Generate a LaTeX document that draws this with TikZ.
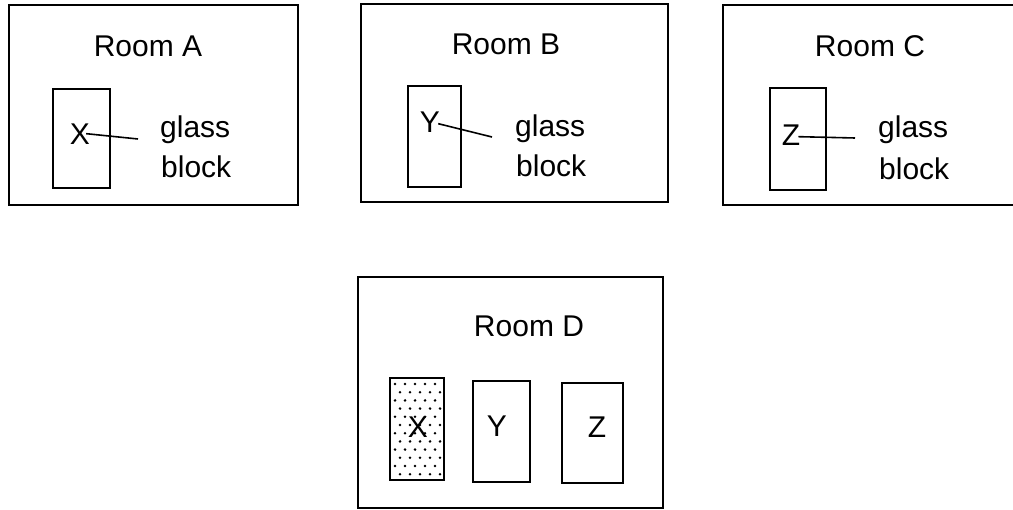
\documentclass[tikz,border=0pt]{standalone}
\usepackage{fontspec}
\setmainfont{Liberation Sans}
\begin{document}
\begin{tikzpicture}[x=1pt,y=-1pt,
  room/.style={draw=black, line width=2pt, rectangle, inner sep=0pt},
  gblock/.style={draw=black, line width=1.8pt, rectangle, inner sep=0pt},
  lbl/.style={anchor=base, inner sep=0pt, font=\fontsize{30}{36}\selectfont},
  lbll/.style={anchor=base west, inner sep=0pt, font=\fontsize{30}{36}\selectfont},
  lead/.style={draw=black, line width=1.6pt}]
\useasboundingbox (0,0) rectangle (1013,510);
\clip (0,0) rectangle (1013,510);
% rooms
\node[room, minimum width=289pt, minimum height=200pt] (roomA) at (153.5,105) {};
\node[room, minimum width=307pt, minimum height=198pt] (roomB) at (514.5,103) {};
\node[room, minimum width=340pt, minimum height=200pt] (roomC) at (893,105) {};
\node[room, minimum width=305pt, minimum height=231pt] (roomD) at (510.5,392.5) {};
% room titles
\node[lbl] (tA) at (148,57) {Room A};
\node[lbl] (tB) at (506,55) {Room B};
\node[lbl] (tC) at (870,57) {Room C};
\node[lbl] (tD) at (529,337) {Room D};
% blocks
\node[gblock, minimum width=57pt, minimum height=99pt] (bA) at (81.5,138.5) {};
\node[gblock, minimum width=53pt, minimum height=101pt] (bB) at (434.5,136.5) {};
\node[gblock, minimum width=56pt, minimum height=102pt] (bC) at (798,139) {};
% dotted fill for block X in room D
\begin{scope}
  \clip (390,378) rectangle (444,480);
  \foreach \i in {0,...,12} {
    \pgfmathsetmacro{\yy}{384+8.2*\i}
    \pgfmathsetmacro{\off}{mod(\i,2)*5}
    \foreach \j in {0,...,5} {
      \fill[black] ({395+\off+10*\j},\yy) circle (1.4pt);
    }
  }
\end{scope}
\node[gblock, minimum width=54pt, minimum height=102pt] (dX) at (417,429) {};
\node[gblock, minimum width=57pt, minimum height=101pt] (dY) at (501.5,431.5) {};
\node[gblock, minimum width=61pt, minimum height=100pt] (dZ) at (592.5,433) {};
% letters
\node[lbl] (xA) at (80,145) {X};
\node[lbl] (yB) at (430,133) {Y};
\node[lbl] (zC) at (791,146) {Z};
\node[lbl] (xD) at (418,438) {X};
\node[lbl] (yD) at (497,437) {Y};
\node[lbl] (zD) at (597,438) {Z};
% glass block labels
\node[lbll] (gA) at (160,138) {glass};
\node[lbll] (kA) at (161,178) {block};
\node[lbll] (gB) at (515,137) {glass};
\node[lbll] (kB) at (516,177) {block};
\node[lbll] (gC) at (878,138) {glass};
\node[lbll] (kC) at (879,180) {block};
% leader lines
\coordinate (eA) at (138,139);
\coordinate (eB) at (492,137);
\coordinate (eC) at (855,138);
\draw[lead] ([xshift=-4pt,yshift=1pt]xA.east) -- (eA);
\draw[lead] ([xshift=-2pt,yshift=-1pt]yB.east) -- (eB);
\draw[lead] ([xshift=-2pt,yshift=-1pt]zC.east) -- (eC);
\end{tikzpicture}
\end{document}
